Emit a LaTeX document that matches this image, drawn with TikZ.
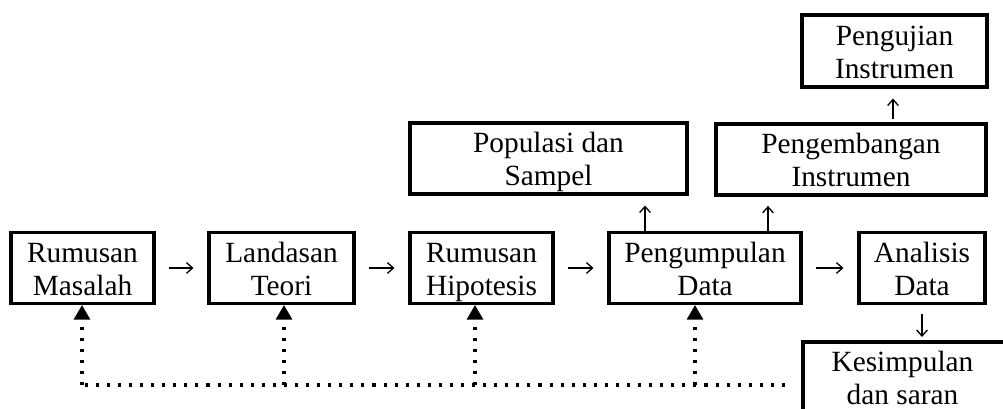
\documentclass[tikz,border=0pt]{standalone}
\usepackage{fontspec}
\setmainfont{Liberation Serif}
\usetikzlibrary{arrows.meta}
\newcommand{\twol}[2]{\rule{0pt}{21.75pt}#1\\#2\rule[-5.25pt]{0pt}{5.25pt}}
\begin{document}
\begin{tikzpicture}[x=0.75pt,y=-0.75pt,
  boxfont/.style={font=\fontsize{22pt}{24.75pt}\selectfont},
  box/.style={draw,line width=2.3pt,inner sep=0pt,minimum height=53.25pt,align=center,boxfont},
  txt/.style={inner sep=0pt,align=center,boxfont},
  frame/.style={draw,line width=2.3pt},
  arr/.style={line width=1pt,-{Straight Barb[length=4.5pt,width=8pt]}},
  fb/.style={line width=2.3pt,dash pattern=on 2.3pt off 6pt},
  fbarr/.style={fb,-{Triangle[length=11pt,width=12pt]}}]
\useasboundingbox (0,0) rectangle (1003,409);
\clip (0,0) rectangle (1003,409);
% bottom row
\node[box,minimum width=107.25pt] (rm) at (82.5,268) {\twol{Rumusan}{Masalah}};
\node[box,minimum width=108.75pt] (lt) at (281.5,268) {\twol{Landasan}{Teori}};
\node[box,minimum width=107.25pt] (rh) at (481.5,268) {\twol{Rumusan}{Hipotesis}};
\node[box,minimum width=144pt] (pd) at (705,268) {\twol{Pengumpulan}{Data}};
\node[box,minimum width=94.5pt] (ad) at (922,268) {\twol{Analisis}{Data}};
% upper rows
\node[box,minimum width=207.75pt] (ps) at (548.5,158.5) {\twol{Populasi dan}{Sampel}};
\node[box,minimum width=202.5pt] (pi) at (851,159.5) {\twol{Pengembangan}{Instrumen}};
\node[box,minimum width=138.75pt,minimum height=54pt] (pj) at (894.5,51) {\twol{Pengujian}{Instrumen}};
% conclusion (box runs past the picture edge)
\node[txt] (ks) at (902.5,374) {\rule{0pt}{21.75pt}Kesimpulan\\dan saran};
\draw[frame] (803,342) rectangle (1030,440);
% horizontal arrows
\draw[arr,shorten <=9.75pt,shorten >=10.5pt] (rm.east) -- (lt.west);
\draw[arr,shorten <=9.75pt,shorten >=10.5pt] (lt.east) -- (rh.west);
\draw[arr,shorten <=9.75pt,shorten >=10.5pt] (rh.east) -- (pd.west);
\draw[arr,shorten <=9.75pt,shorten >=10.5pt] (pd.east) -- (ad.west);
% vertical arrows
\coordinate (u1) at (645,0);
\coordinate (u2) at (768,0);
\coordinate (u3) at (893,0);
\coordinate (ktop) at (0,342);
\draw[arr,shorten >=7.5pt] (pd.north -| u1) -- (ps.south -| u1);
\draw[arr,shorten >=7pt] (pd.north -| u2) -- (pi.south -| u2);
\draw[arr,shorten <=2.6pt,shorten >=7.5pt] (pi.north -| u3) -- (pj.south -| u3);
\draw[arr,shorten <=7pt,shorten >=3.75pt] (ad.south) -- (ad.south |- ktop);
% feedback dotted line
\coordinate (fe) at (785,385);
\coordinate (f1) at (82,385);
\coordinate (f2) at (284,385);
\coordinate (f3) at (475,385);
\coordinate (f4) at (695,385);
\draw[fb] (fe) -- (f1);
\draw[fbarr] (f1) -- (f1 |- rm.south);
\draw[fbarr] (f2) -- (f2 |- lt.south);
\draw[fbarr] (f3) -- (f3 |- rh.south);
\draw[fbarr] (f4) -- (f4 |- pd.south);
\end{tikzpicture}
\end{document}
